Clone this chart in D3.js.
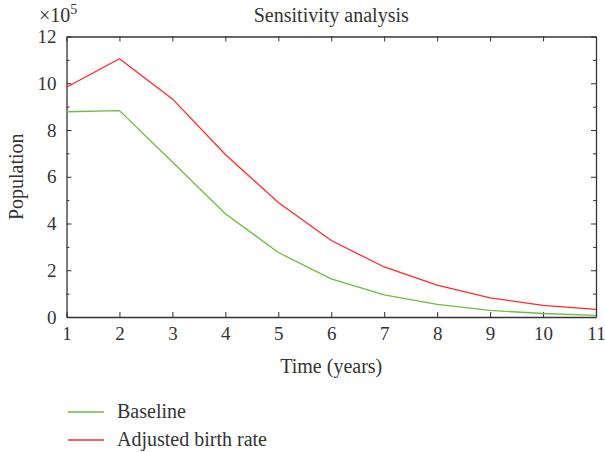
<!DOCTYPE html>
<html>
<head>
<meta charset="utf-8">
<script src="https://cdn.jsdelivr.net/npm/d3@7"></script>
<style>
  html, body { margin: 0; padding: 0; background: #fff; }
  svg { display: block; font-family: "Liberation Serif", "DejaVu Serif", serif; }
  .axis path, .axis line { stroke: #333; }
  .axis text { fill: #333; font-size: 19px; font-family: "Liberation Serif", serif; }
  .label { fill: #333; font-size: 20px; }
  .line { fill: none; stroke-width: 1.3; }
</style>
</head>
<body>
<svg width="605" height="452"></svg>
<script>
// Data (population)
const years = [1, 2, 3, 4, 5, 6, 7, 8, 9, 10, 11];
const baseline = [878000, 883000, 663000, 442000, 276000, 163000, 95000, 54000, 28000, 15000, 7000];
const adjusted = [983000, 1105000, 933000, 695000, 490000, 327000, 214000, 136000, 82000, 50000, 33000];
const yTicks = [0, 200000, 400000, 600000, 800000, 1000000, 1200000];
const yMinorTicks = [100000, 300000, 500000, 700000, 900000, 1100000];
const seriesNames = ['Baseline', 'Adjusted birth rate'];
const seriesColors = ['#6cbd45', '#ff2a2a'];

const margin = { top: 36.5, right: 9, bottom: 135, left: 66.5 };
const W = 605, H = 452;
const innerW = W - margin.left - margin.right;
const innerH = H - margin.top - margin.bottom;

const svg = d3.select('svg');
const g = svg.append('g').attr('transform', `translate(${margin.left},${margin.top})`);

const x = d3.scaleLinear().domain([1, 11]).range([0, innerW]);
const y = d3.scaleLinear().domain([0, 1200000]).range([innerH, 0]);

const tickLen = 5;

// bottom axis
g.append('g').attr('class', 'axis')
  .attr('transform', `translate(0,${innerH})`)
  .call(d3.axisBottom(x).tickValues(years).tickSizeInner(-tickLen).tickSizeOuter(0).tickPadding(10).tickFormat(d3.format('d')));
// top axis
g.append('g').attr('class', 'axis')
  .call(d3.axisTop(x).tickValues(years).tickSizeInner(-tickLen).tickSizeOuter(0).tickFormat(''));
// left axis
g.append('g').attr('class', 'axis')
  .call(d3.axisLeft(y).tickValues(yTicks).tickSizeInner(-tickLen).tickSizeOuter(0).tickPadding(10).tickFormat(d => d / 100000));
g.append('g').attr('class', 'axis')
  .call(d3.axisLeft(y).tickValues(yMinorTicks).tickSizeInner(-3).tickSizeOuter(0).tickFormat(''))
  .select('.domain').remove();
// right axis
g.append('g').attr('class', 'axis')
  .attr('transform', `translate(${innerW},0)`)
  .call(d3.axisRight(y).tickValues(yTicks).tickSizeInner(-tickLen).tickSizeOuter(0).tickFormat(''));
g.append('g').attr('class', 'axis')
  .attr('transform', `translate(${innerW},0)`)
  .call(d3.axisRight(y).tickValues(yMinorTicks).tickSizeInner(-3).tickSizeOuter(0).tickFormat(''))
  .select('.domain').remove();

g.selectAll('.axis path.domain').attr('stroke-width', 1.3);

// lines
const line = d3.line().x((d, i) => x(years[i])).y(d => y(d));
[baseline, adjusted].forEach((s, i) => {
  g.append('path').datum(s).attr('class', 'line')
    .attr('stroke', seriesColors[i]).attr('d', line);
});

// title
svg.append('text').attr('class', 'label')
  .attr('x', margin.left + innerW / 2).attr('y', 22)
  .attr('text-anchor', 'middle')
  .text('Sensitivity analysis');

// exponent
const ex = svg.append('text').attr('class', 'label').attr('x', 39).attr('y', 22);
ex.append('tspan').text('×10');
ex.append('tspan').attr('dy', -8).style('font-size', '14px').text('5');

// axis labels
svg.append('text').attr('class', 'label')
  .attr('x', margin.left + innerW / 2).attr('y', 373)
  .attr('text-anchor', 'middle')
  .text('Time (years)');
svg.append('text').attr('class', 'label')
  .attr('transform', `translate(23,${margin.top + innerH / 2}) rotate(-90)`)
  .attr('text-anchor', 'middle')
  .text('Population');

// legend
const legend = svg.append('g').attr('transform', 'translate(68,412)');
seriesNames.forEach((name, i) => {
  const row = legend.append('g').attr('transform', `translate(0,${i * 28})`);
  row.append('line').attr('x1', 0).attr('x2', 36).attr('y1', 0).attr('y2', 0)
    .attr('stroke', seriesColors[i]).attr('stroke-width', 1.3);
  row.append('text').attr('class', 'label').attr('x', 49).attr('y', 6).text(name);
});
</script>
</body>
</html>
